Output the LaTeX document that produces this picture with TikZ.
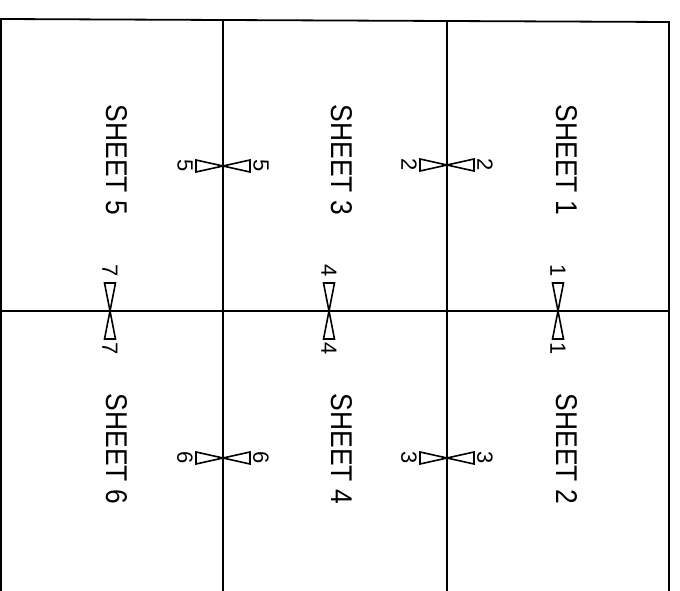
\documentclass[tikz,border=0pt]{standalone}
\usepackage{fontspec}
\setmainfont{Liberation Sans}
\newcommand\htie[4]{%
  \draw[tie] (#1,#2) -- ++(-27,-6) -- ++(0,12) -- cycle;
  \draw[tie] (#1,#2) -- ++(27,-6) -- ++(0,12) -- cycle;
  \node[num] (#4a) at (#1-38,#2) {#3};
  \node[num] (#4b) at (#1+38,#2) {#3};}
\newcommand\vtie[4]{%
  \draw[tie] (#1,#2) -- ++(-5.5,-28) -- ++(11,0) -- cycle;
  \draw[tie] (#1,#2) -- ++(-5.5,28) -- ++(11,0) -- cycle;
  \node[num] (#4a) at (#1,#2-40) {#3};
  \node[num] (#4b) at (#1,#2+38) {#3};}
\begin{document}
\begin{tikzpicture}[x=1pt,y=-1pt, line width=1.8pt,
  sheet/.style={rotate=-90, font=\fontsize{30}{30}\selectfont, inner sep=0pt},
  num/.style={rotate=-90, font=\fontsize{22}{22}\selectfont, inner sep=0pt},
  tie/.style={line width=1.6pt, line join=miter}]
\useasboundingbox (0,0) rectangle (680,591);
\draw (1,591) -- (1,19) -- (669,22) -- (669,591);
\draw (223,20) -- (223,591);
\draw (447,21) -- (447,591);
\draw (1,311) -- (669,311);
\htie{447}{165}{2}{ta}
\htie{223}{166}{5}{tb}
\htie{447}{458}{3}{tc}
\htie{223}{458}{6}{td}
\vtie{558}{311}{1}{te}
\vtie{329}{311}{4}{tf}
\vtie{110}{311}{7}{tg}
\node[sheet] (s1) at (567,160) {\scalebox{0.88}[1]{SHEET 1}};
\node[sheet] (s2) at (567,449) {\scalebox{0.88}[1]{SHEET 2}};
\node[sheet] (s3) at (342,160) {\scalebox{0.88}[1]{SHEET 3}};
\node[sheet] (s4) at (342,449) {\scalebox{0.88}[1]{SHEET 4}};
\node[sheet] (s5) at (117,160) {\scalebox{0.88}[1]{SHEET 5}};
\node[sheet] (s6) at (117,449) {\scalebox{0.88}[1]{SHEET 6}};
\end{tikzpicture}
\end{document}
